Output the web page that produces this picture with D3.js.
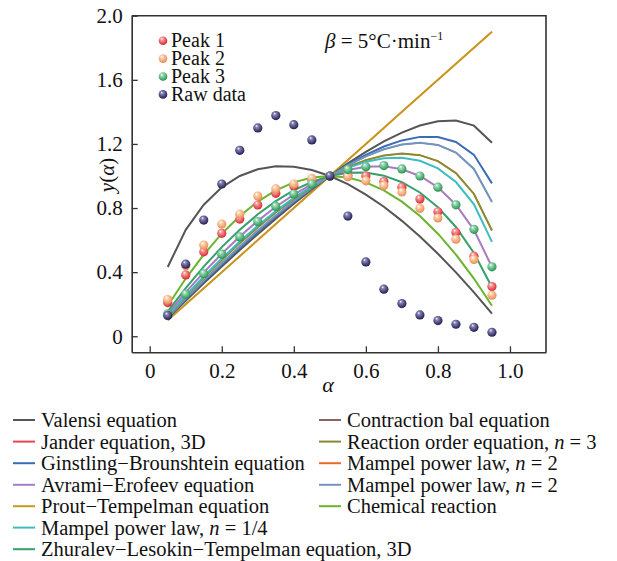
<!DOCTYPE html>
<html>
<head>
<meta charset="utf-8">
<script src="https://cdn.jsdelivr.net/npm/d3@7"></script>
</head>
<body style="margin:0;background:#fff">
<svg id="chart" width="617" height="561" font-family="Liberation Serif, serif"></svg>
<script>
// conversion degree values
var alpha = [0.05, 0.10, 0.15, 0.20, 0.25, 0.30, 0.35, 0.40, 0.45, 0.50,
             0.55, 0.60, 0.65, 0.70, 0.75, 0.80, 0.85, 0.90, 0.95];

var rawData = [0.13, 0.45, 0.725, 0.95, 1.16, 1.30, 1.377, 1.32, 1.225, 1.0,
               0.75, 0.464, 0.294, 0.204, 0.133, 0.098, 0.075, 0.056, 0.025];
var peak1 = [0.21, 0.383, 0.527, 0.642, 0.731, 0.819, 0.892, 0.938, 0.975, 1.0,
             1.005, 1.0, 0.965, 0.93, 0.856, 0.777, 0.648, 0.50, 0.31];
var peak2 = [0.229, 0.44, 0.569, 0.70, 0.762, 0.875, 0.919, 0.95, 0.985, 1.0,
             0.996, 0.97, 0.94, 0.90, 0.798, 0.738, 0.606, 0.479, 0.256];
var peak3 = [0.14, 0.2625, 0.39, 0.5125, 0.62, 0.715, 0.81, 0.8875, 0.95, 1.0,
             1.04, 1.058, 1.065, 1.044, 1.0, 0.93, 0.82, 0.667, 0.433];

// model curves
var valensi = [0.112, 0.222, 0.330, 0.435, 0.538, 0.637, 0.734, 0.827, 0.916, 1.0,
               1.079, 1.151, 1.216, 1.271, 1.315, 1.342, 1.346, 1.314, 1.207];
var valensiLow = [0.432, 0.664, 0.821, 0.929, 1.0, 1.042, 1.060, 1.058, 1.037, 1.0,
                  0.949, 0.884, 0.808, 0.720, 0.623, 0.515, 0.399, 0.274, 0.141];
var jander = [0.126, 0.248, 0.364, 0.475, 0.581, 0.680, 0.772, 0.857, 0.933, 1.0,
              1.056, 1.099, 1.128, 1.140, 1.130, 1.093, 1.018, 0.888, 0.660];
var ginstling = [0.117, 0.231, 0.341, 0.449, 0.552, 0.652, 0.747, 0.838, 0.922, 1.0,
                 1.071, 1.132, 1.184, 1.222, 1.244, 1.243, 1.212, 1.132, 0.954];
var avrami = [0.141, 0.274, 0.399, 0.515, 0.623, 0.720, 0.808, 0.884, 0.949, 1.0,
              1.037, 1.058, 1.060, 1.042, 1.0, 0.929, 0.821, 0.664, 0.432];
var prout = [0.1, 0.2, 0.3, 0.4, 0.5, 0.6, 0.7, 0.8, 0.9, 1.0,
             1.1, 1.2, 1.3, 1.4, 1.5, 1.6, 1.7, 1.8, 1.9];
var mampelQuarter = [0.130, 0.254, 0.373, 0.485, 0.591, 0.690, 0.781, 0.864, 0.937, 1.0,
                     1.051, 1.089, 1.110, 1.114, 1.095, 1.047, 0.962, 0.823, 0.589];
var zhuravlev = [0.156, 0.301, 0.435, 0.556, 0.665, 0.761, 0.843, 0.911, 0.963, 1.0,
                 1.020, 1.021, 1.002, 0.961, 0.897, 0.805, 0.682, 0.520, 0.306];
var contraction = [0.119, 0.235, 0.347, 0.456, 0.560, 0.660, 0.754, 0.843, 0.925, 1.0,
                   1.066, 1.122, 1.167, 1.196, 1.207, 1.194, 1.146, 1.044, 0.838];
var reactionOrder = [0.126, 0.248, 0.364, 0.475, 0.581, 0.680, 0.772, 0.857, 0.933, 1.0,
                     1.056, 1.099, 1.128, 1.140, 1.130, 1.093, 1.018, 0.888, 0.660];
var mampelTwoA = [0.1, 0.2, 0.3, 0.4, 0.5, 0.6, 0.7, 0.8, 0.9, 1.0,
                  1.1, 1.2, 1.3, 1.4, 1.5, 1.6, 1.7, 1.8, 1.9];
var mampelTwoB = [0.119, 0.235, 0.347, 0.456, 0.560, 0.660, 0.754, 0.843, 0.925, 1.0,
                  1.066, 1.122, 1.167, 1.196, 1.207, 1.194, 1.146, 1.044, 0.838];
var chemical = [0.19, 0.36, 0.51, 0.64, 0.75, 0.84, 0.91, 0.96, 0.99, 1.0,
                0.99, 0.96, 0.91, 0.84, 0.75, 0.64, 0.51, 0.36, 0.19];

var xTicks = [0, 0.2, 0.4, 0.6, 0.8, 1.0];
var yTicks = [0, 0.4, 0.8, 1.2, 1.6, 2.0];

var models = [
  {name: "Valensi equation", values: valensi, color: "#555555", col: 0, row: 0},
  {name: "Jander equation, 3D", values: jander, color: "#e8474a", col: 0, row: 1, hidden: true},
  {name: "Ginstling\u2212Brounshtein equation", values: ginstling, color: "#3a6db5", col: 0, row: 2},
  {name: "Avrami\u2212Erofeev equation", values: avrami, color: "#a77bc2", col: 0, row: 3},
  {name: "Prout\u2212Tempelman equation", values: prout, color: "#c9961d", col: 0, row: 4},
  {name: "Mampel power law, |n| = 1/4", values: mampelQuarter, color: "#3dbdc0", col: 0, row: 5},
  {name: "Zhuralev\u2212Lesokin\u2212Tempelman equation, 3D", values: zhuravlev, color: "#34a06a", col: 0, row: 6},
  {name: "Contraction bal equation", values: contraction, color: "#8c6262", col: 1, row: 0, hidden: true},
  {name: "Reaction order equation, |n| = 3", values: reactionOrder, color: "#8c8a30", col: 1, row: 1},
  {name: "Mampel power law, |n| = 2", values: mampelTwoA, color: "#ea6a2a", col: 1, row: 2, hidden: true},
  {name: "Mampel power law, |n| = 2", values: mampelTwoB, color: "#7493bd", col: 1, row: 3},
  {name: "Chemical reaction", values: chemical, color: "#6cb42e", col: 1, row: 4}
];
// drawing order (later ones on top)
var drawOrder = [1, 7, 9, 4, 0, 2, 10, 8, 5, 3, 6, 11];

var peaks = [
  {name: "Peak 1", values: peak1, light: "#f7a0a0", dark: "#d9262c"},
  {name: "Peak 2", values: peak2, light: "#fcd6b4", dark: "#e88a52"},
  {name: "Peak 3", values: peak3, light: "#9fdcb6", dark: "#23914f"},
  {name: "Raw data", values: rawData, light: "#8886b8", dark: "#1f1c4c"}
];

function txt(sel, size) {
  return sel.attr("font-family", "Liberation Serif, serif")
    .attr("style", "font-family:'Liberation Serif',serif;font-size:" + size + "px")
    .attr("fill", "#111");
}

var svg = d3.select("#chart");
var x = d3.scaleLinear().domain([-0.05, 1.1]).range([131.7, 546]);
var y = d3.scaleLinear().domain([-0.1, 2.0]).range([352.3, 15.7]);

var defs = svg.append("defs");
peaks.forEach(function(p, i) {
  var g = defs.append("radialGradient").attr("id", "ball" + i)
      .attr("cx", "45%").attr("cy", "40%").attr("r", "60%")
      .attr("fx", "35%").attr("fy", "28%");
  g.append("stop").attr("offset", "0%").attr("stop-color", "#ffffff");
  g.append("stop").attr("offset", "25%").attr("stop-color", p.light);
  g.append("stop").attr("offset", "100%").attr("stop-color", p.dark);
});

// axes
var fmt = function(d) { return d === 0 ? "0" : d.toFixed(1); };
var xAxis = d3.axisBottom(x).tickValues(xTicks).tickFormat(fmt)
    .tickSizeInner(-6).tickSizeOuter(0).tickPadding(11);
var yAxis = d3.axisLeft(y).tickValues(yTicks).tickFormat(fmt)
    .tickSizeInner(-6).tickSizeOuter(0).tickPadding(9);

var gx = svg.append("g").attr("transform", "translate(0," + y(-0.1) + ")").call(xAxis);
var gy = svg.append("g").attr("transform", "translate(" + x(-0.05) + ",0)").call(yAxis);
[gx, gy].forEach(function(g) {
  g.attr("font-family", "Liberation Serif, serif").attr("font-size", 21);
  txt(g.selectAll("text"), 21);
  g.selectAll("line").attr("stroke", "#333").attr("stroke-width", 1.3);
  g.select(".domain").attr("stroke", "#333").attr("stroke-width", 1.6);
});
// top and right frame
svg.append("path")
  .attr("d", "M" + x(-0.05) + "," + y(2.0) + "H" + x(1.1) + "V" + y(-0.1))
  .attr("fill", "none").attr("stroke", "#333").attr("stroke-width", 1.6);

// axis titles
txt(svg.append("text"), 21).attr("transform", "translate(114,175) rotate(-90)")
  .attr("text-anchor", "middle")
  .html('<tspan font-style="italic">y</tspan>(<tspan font-style="italic">\u03b1</tspan>)');
txt(svg.append("text"), 22).attr("x", 328).attr("y", 392).attr("text-anchor", "middle")
  .attr("font-style", "italic").text("\u03b1");

// model lines
var line = d3.line()
  .x(function(d, i) { return x(alpha[i]); })
  .y(function(d) { return y(d); });

svg.append("g").selectAll("path")
  .data(drawOrder.map(function(i) { return models[i]; }))
  .enter().append("path")
  .attr("d", function(m) { return line(m.values); })
  .attr("fill", "none")
  .attr("stroke", function(m) { return m.color; })
  .attr("stroke-width", function(m) { return m.hidden ? 1.2 : 2; });
// second dark grey curve
svg.append("path").attr("d", line(valensiLow)).attr("fill", "none")
  .attr("stroke", "#555555").attr("stroke-width", 2);

// data balls
peaks.forEach(function(p, k) {
  svg.append("g").selectAll("circle")
    .data(p.values).enter().append("circle")
    .attr("cx", function(d, i) { return x(alpha[i]); })
    .attr("cy", function(d) { return y(d); })
    .attr("r", 4.6)
    .attr("fill", "url(#ball" + k + ")");
});

// inner legend
var inner = svg.append("g");
peaks.forEach(function(p, k) {
  var cy = 40.7 + k * 17.9;
  inner.append("circle").attr("cx", 163).attr("cy", cy).attr("r", 4.3).attr("fill", "url(#ball" + k + ")");
  txt(inner.append("text"), 20).attr("x", 171).attr("y", cy + 6.5).text(p.name);
});

txt(svg.append("text"), 21).attr("x", 325).attr("y", 48)
  .html('<tspan font-style="italic">\u03b2</tspan> = 5\u00b0C\u00b7min<tspan dy="-8" font-size="12px">\u22121</tspan>');

// bottom legend
var legRows = [420, 441.6, 463.2, 484.8, 506.2, 527.6, 549.2];
var colX = [13, 319];
var leg = svg.append("g");
models.forEach(function(m) {
  var cy = legRows[m.row], lx = colX[m.col];
  leg.append("line").attr("x1", lx).attr("x2", lx + 22).attr("y1", cy).attr("y2", cy)
    .attr("stroke", m.color).attr("stroke-width", 2);
  var t = txt(leg.append("text"), 20.5).attr("x", lx + 28).attr("y", cy + 7);
  var parts = m.name.split("|");
  parts.forEach(function(s, j) {
    var ts = t.append("tspan").text(s);
    if (j % 2 === 1) ts.attr("font-style", "italic");
  });
});
</script>
</body>
</html>
